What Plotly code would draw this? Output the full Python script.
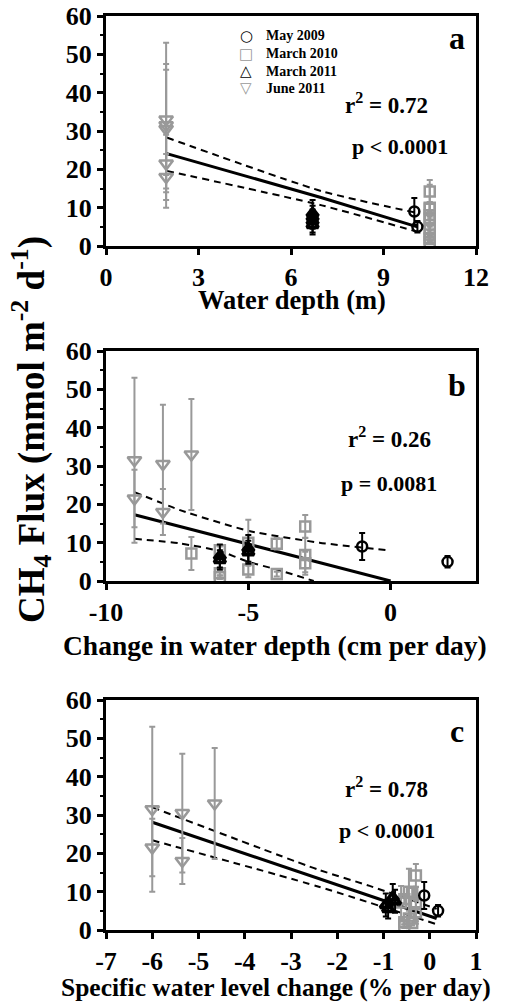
import plotly.graph_objects as go

# ---------------- data ----------------
# Flux values (mmol m-2 d-1) and their error (+/-)
may09_flux = [9.0, 5.0]
may09_err = [3.5, 1.5]
may09_depth = [10.0, 10.1]
may09_dchange = [-1.0, 2.0]
may09_spec = [-0.12, 0.18]

mar10_flux = [7.2, 8.0, 2.0, 1.0, 10.0, 3.0, 9.7, 1.8, 14.2, 6.8, 4.6]
mar10_err = [4.3, 1.0, 0.6, 0.5, 6.0, 2.0, 1.5, 0.6, 3.0, 4.5, 3.0]
mar10_depth = [10.5] * 11
mar10_dchange = [-7, -6, -6, -6, -5, -5, -4, -4, -3, -3, -3]
mar10_spec = [-0.62, -0.55, -0.55, -0.55, -0.45, -0.45, -0.38, -0.38, -0.3, -0.3, -0.3]

mar11_flux = [6.5, 5.5, 8.5, 7.5]
mar11_err = [3.0, 2.5, 3.5, 3.0]
mar11_depth = [6.7, 6.7, 6.7, 6.7]
mar11_dchange = [-6, -6, -5, -5]
mar11_spec = [-0.95, -0.9, -0.8, -0.75]

jun11_flux = [31.5, 21.5, 30.5, 18.0, 33.0]
jun11_err = [21.5, 7.5, 15.5, 6.0, 14.5]
jun11_depth = [1.95, 1.95, 1.95, 1.95, 1.95]
jun11_dchange = [-9, -9, -8, -8, -7]
jun11_spec = [-6.0, -6.0, -5.35, -5.35, -4.65]

# regression fit and 95% confidence bands
fit_a_x = [1.97, 7.0, 10.1]
fit_a_y = [24.1, 12.6, 5.0]
ciu_a_y = [28.3, 14.3, 8.6]
cil_a_y = [19.6, 10.6, 3.7]

fit_b_x = [-9.0, 0.0]
fit_b_y = [17.3, 0.0]
ciu_b_x = [-9.0, -7.4, -5.0, -2.5, -0.1]
ciu_b_y = [23.2, 18.5, 13.1, 10.0, 8.0]
cil_b_x = [-9.0, -7.4, -6.0, -5.0, -4.0, -2.7]
cil_b_y = [11.0, 9.8, 7.8, 5.0, 3.0, 0.0]

fit_c_x = [-6.0, 0.15]
fit_c_y = [28.1, 3.0]
ciu_c_x = [-6.0, -2.4, -1.3, 0.15]
ciu_c_y = [32.0, 15.7, 11.5, 5.5]
cil_c_x = [-6.0, -2.4, 0.2]
cil_c_y = [23.4, 11.3, 1.3]

series_names = ["May 2009", "March 2010", "March 2011", "June 2011"]
legend_glyphs = ["○", "□", "△", "▽"]

# tick labels
ya_ticks = [0, 10, 20, 30, 40, 50, 60]
xa_ticks = [0, 3, 6, 9, 12]
xb_ticks = [-10, -5, 0]
xc_ticks = [-7, -6, -5, -4, -3, -2, -1, 0, 1]

FONT = "Liberation Serif"
GRAY = "#999999"
BLACK = "#000000"

fig = go.Figure()

styles = {
    "May 2009": dict(symbol="circle-open", color=BLACK, size=10, lw=2.5),
    "March 2010": dict(symbol="square-open", color=GRAY, size=10, lw=2.5),
    "March 2011": dict(symbol="triangle-up-open", color=BLACK, size=10, lw=3.5),
    "June 2011": dict(symbol="triangle-down-open", color=GRAY, size=12, lw=2.5),
}

panels = [
    ("x", "y", [may09_depth, mar10_depth, mar11_depth, jun11_depth]),
    ("x2", "y2", [may09_dchange, mar10_dchange, mar11_dchange, jun11_dchange]),
    ("x3", "y3", [may09_spec, mar10_spec, mar11_spec, jun11_spec]),
]
fluxes = [may09_flux, mar10_flux, mar11_flux, jun11_flux]
errs = [may09_err, mar10_err, mar11_err, jun11_err]

for pi, (xa, ya, xs_list) in enumerate(panels):
    if pi == 0:
        lines = [(fit_a_x, fit_a_y, "solid", 3), (fit_a_x, ciu_a_y, "dash", 2), (fit_a_x, cil_a_y, "dash", 2)]
    elif pi == 1:
        lines = [(fit_b_x, fit_b_y, "solid", 3), (ciu_b_x, ciu_b_y, "dash", 2), (cil_b_x, cil_b_y, "dash", 2)]
    else:
        lines = [(fit_c_x, fit_c_y, "solid", 3), (ciu_c_x, ciu_c_y, "dash", 2), (cil_c_x, cil_c_y, "dash", 2)]
    for lx, ly, dsh, w in lines:
        fig.add_trace(go.Scatter(
            x=lx, y=ly, mode="lines", xaxis=xa, yaxis=ya, showlegend=False,
            line=dict(color=BLACK, width=w, dash="7px,5px" if dsh == "dash" else "solid",
                      shape="spline", smoothing=0.6),
            hoverinfo="skip"))
    for si in [3, 1, 2, 0]:
        name = series_names[si]
        st = styles[name]
        fig.add_trace(go.Scatter(
            x=xs_list[si], y=fluxes[si], mode="markers", name=name,
            xaxis=xa, yaxis=ya, showlegend=False,
            marker=dict(symbol=st["symbol"], size=st["size"], color=st["color"],
                        line=dict(color=st["color"], width=st["lw"])),
            error_y=dict(type="data", array=errs[si], visible=True, color=st["color"],
                         thickness=2, width=3),
        ))

# ---------------- layout ----------------
fig_w, fig_h = 510, 1004
xdom = [106 / fig_w, 476 / fig_w]


def ydom(top, bottom):
    return [1 - bottom / fig_h, 1 - top / fig_h]


def lbl(v):
    return str(v).replace("−", "-")


ytickfont = dict(family=FONT, size=26, color=BLACK, weight="bold")
xtickfont = dict(family=FONT, size=26, color=BLACK, weight="bold")
axis_common = dict(showline=True, linewidth=3, linecolor=BLACK, mirror=True,
                   ticks="outside", ticklen=6, tickwidth=3, tickcolor=BLACK,
                   showgrid=False, zeroline=False, automargin=False)
yaxis_common = dict(axis_common, range=[0, 60], tickvals=ya_ticks, ticktext=[lbl(v) for v in ya_ticks],
                    tickfont=ytickfont,
                    minor=dict(ticks="outside", ticklen=3, tickwidth=2, dtick=5, tickcolor=BLACK))

fig.update_layout(
    template="none",
    width=fig_w, height=fig_h,
    margin=dict(l=0, r=0, t=0, b=0, autoexpand=False),
    paper_bgcolor="white", plot_bgcolor="white",
    font=dict(family=FONT, color=BLACK, weight="bold"),
    showlegend=False,
    xaxis=dict(axis_common, domain=xdom, anchor="y", range=[0, 12], tickfont=xtickfont,
               tickvals=xa_ticks, ticktext=[lbl(v) for v in xa_ticks]),
    yaxis=dict(yaxis_common, domain=ydom(16, 246), anchor="x"),
    xaxis2=dict(axis_common, domain=xdom, anchor="y2", range=[-10, 3], tickfont=xtickfont,
                tickvals=xb_ticks, ticktext=[lbl(v) for v in xb_ticks]),
    yaxis2=dict(yaxis_common, domain=ydom(351, 581), anchor="x2"),
    xaxis3=dict(axis_common, domain=xdom, anchor="y3", range=[-7, 1], tickfont=xtickfont,
                tickvals=xc_ticks, ticktext=[lbl(v) for v in xc_ticks]),
    yaxis3=dict(yaxis_common, domain=ydom(700, 930), anchor="x3"),
)


def px_ann(text, x, y, size, family=FONT, color=BLACK, xanchor="center", **kw):
    fig.add_annotation(text=text, x=x / fig_w, y=1 - y / fig_h, xref="paper", yref="paper",
                       xanchor=xanchor, yanchor="middle", showarrow=False,
                       font=dict(family=family, size=size, color=color, weight="bold"), **kw)


# legend (panel a)
legend_colors = [BLACK, GRAY, BLACK, GRAY]
legend_rows = [36, 54, 71, 88]
for name, glyph, col, yy in zip(series_names, legend_glyphs, legend_colors, legend_rows):
    px_ann(glyph, 246, yy, 15, family="DejaVu Sans", color=col)
    px_ann(name, 264, yy, 14, xanchor="left")

# panel letters
px_ann("a", 457, 38, 32)
px_ann("b", 457, 385, 32)
px_ann("c", 457, 731, 32)
# statistics
px_ann("r<sup>2</sup> = 0.72", 386, 103, 23)
px_ann("p < 0.0001", 400, 147, 22)
px_ann("r<sup>2</sup> = 0.26", 389, 437, 23)
px_ann("p = 0.0081", 389, 483, 22)
px_ann("r<sup>2</sup> = 0.78", 386, 787, 23)
px_ann("p < 0.0001", 387, 830, 22)
# axis titles
px_ann("Water depth (m)", 292, 300, 26.5)
px_ann("Change in water depth (cm per day)", 275, 645, 27.5)
px_ann("Specific water level change (% per day)", 276, 987, 25.5)
px_ann("CH<sub>4</sub> Flux (mmol m<sup>-2</sup> d<sup>-1</sup>)", 31, 430, 37, textangle=-90)

fig.write_html("out.html")
